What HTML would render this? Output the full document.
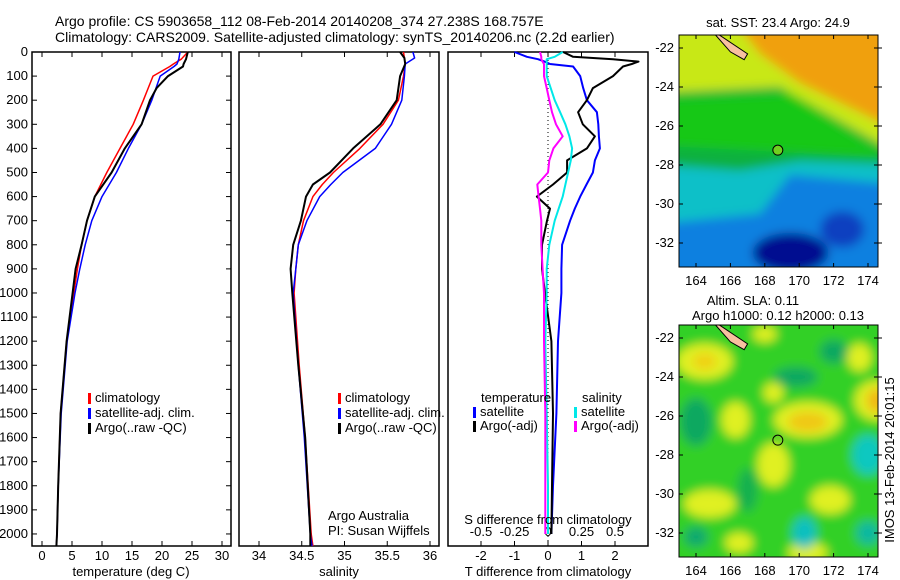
<!DOCTYPE html>
<html><head><meta charset="utf-8"><style>
body{margin:0;background:#fff}
svg{display:block;font-family:"Liberation Sans",sans-serif;font-size:13px}
</style></head><body>
<svg id="c" width="900" height="580" viewBox="0 0 900 580">
<defs>
<filter id="bl" x="-20%" y="-20%" width="140%" height="140%"><feGaussianBlur stdDeviation="5"/></filter>
<clipPath id="cm1"><rect x="679" y="35" width="199" height="232"/></clipPath>
<clipPath id="cm2"><rect x="679" y="325" width="199" height="232"/></clipPath>
</defs>
<text x="55" y="26" font-size="14">Argo profile: CS 5903658_112 08-Feb-2014 20140208_374 27.238S 168.757E</text>
<text x="55" y="42" font-size="14">Climatology: CARS2009. Satellite-adjusted climatology: synTS_20140206.nc (2.2d earlier)</text>
<g id="plots"></g>
<g id="maps"></g>
</svg>
<script>
// ---- data ----
const depthT = [0,30,50,60,100,150,200,300,400,500,600,700,800,900,1000,1200,1500,1800,2000,2050];
const tempClim = [24.3,23.2,21.9,21.3,18.5,17.7,16.9,15.2,13.0,10.8,8.8,7.5,6.6,5.9,5.3,4.1,3.1,2.7,2.5,2.4];
const tempSat  = [23.0,22.8,22.5,22.0,19.7,19.0,18.3,16.6,14.4,12.4,10.0,8.3,7.2,6.3,5.5,4.2,3.2,2.7,2.5,2.4];
const tempArgo = [24.3,24.0,23.6,23.5,21.0,19.1,18.0,16.6,13.8,11.6,8.8,7.5,6.6,5.6,5.1,4.1,3.1,2.7,2.5,2.4];
const depthS = [0,25,50,100,200,300,400,500,550,600,700,800,900,1000,1300,1600,2000,2050];
const salClim = [35.69,35.70,35.71,35.69,35.63,35.45,35.18,34.87,34.74,34.63,34.52,34.46,34.43,34.41,34.47,34.54,34.61,34.63];
const salSat  = [35.80,35.82,35.71,35.70,35.67,35.55,35.36,34.98,34.84,34.71,34.56,34.46,34.43,34.40,34.46,34.53,34.60,34.62];
const salArgo = [35.65,35.70,35.71,35.65,35.61,35.42,35.10,34.83,34.63,34.55,34.49,34.40,34.37,34.39,34.46,34.54,34.60,34.60];
const depthD = [0,20,30,40,50,60,100,150,200,250,300,350,400,450,500,550,600,650,700,800,900,1000,1200,1500,1800,2000];
const dTsat  = [-1.0,-0.63,-0.3,-0.1,0.06,0.75,0.96,1.05,1.16,1.46,1.5,1.52,1.55,1.4,1.34,1.15,0.96,0.8,0.66,0.42,0.4,0.4,0.3,0.25,0.15,0.1];
const dTargo = [0.45,0.75,1.94,2.7,2.5,2.24,1.94,1.34,1.16,0.9,1.04,1.4,1.16,0.57,0.57,0.15,-0.33,0.06,-0.03,-0.18,-0.18,-0.09,0.1,0.15,0.12,0.1];
const dSsat  = [0.11,0.05,-0.01,-0.01,-0.01,-0.01,-0.01,0.02,0.05,0.09,0.13,0.16,0.18,0.17,0.15,0.13,0.11,0.08,0.05,0.01,-0.01,-0.01,-0.02,-0.01,0.0,0.0];
const dSargo = [-0.06,-0.05,-0.05,-0.04,-0.03,-0.03,-0.03,-0.01,0.01,0.03,0.06,0.11,0.04,0.01,0.0,-0.08,-0.07,-0.06,-0.05,-0.05,-0.04,-0.03,-0.03,-0.02,-0.02,-0.02];
const depthTicks = [0,100,200,300,400,500,600,700,800,900,1000,1100,1200,1300,1400,1500,1600,1700,1800,1900,2000];
const tTicks = [0,5,10,15,20,25,30];
const sTicks = [34,34.5,35,35.5,36];
const sTickLabels = ["34","34.5","35","35.5","36"];
const dtTicks = [-2,-1,0,1,2];
const dsTicks = [-0.5,-0.25,0,0.25,0.5];
const dsTickLabels = ["-0.5","-0.25","0","0.25","0.5"];
const lonTicks = [164,166,168,170,172,174];
const latTicks = [-22,-24,-26,-28,-30,-32];

const NS="http://www.w3.org/2000/svg";
function mk(tag,attrs,parent,txt){const e=document.createElementNS(NS,tag);for(const k in attrs)e.setAttribute(k,attrs[k]);if(txt!==undefined)e.textContent=txt;parent.appendChild(e);return e;}
const P=document.getElementById('plots'), M=document.getElementById('maps');
const TOP=52, BOT=546;
const yD=d=>TOP+d*(BOT-TOP)/2050;
const xT=t=>42+6*t;
const xS=s=>259+85.5*(s-34);
const xDT=t=>548+33.5*t;
const xDS=s=>548+134*s;

function frame(x0,x1,name){
  const r=mk('rect',{x:x0,y:TOP,width:x1-x0,height:BOT-TOP,fill:'none',stroke:'#000','stroke-width':1.5},P);
  
  
}
frame(32,231,'temperature-panel');frame(239,439,'salinity-panel');frame(448,648,'difference-panel');

depthTicks.forEach(d=>{
  const y=yD(d);
  mk('line',{x1:32,x2:37,y1:y,y2:y,stroke:'#000'},P);
  mk('line',{x1:226,x2:231,y1:y,y2:y,stroke:'#000'},P);
  const t=mk('text',{x:28,y:y+4,'text-anchor':'end'},P,String(d));
  
  
});
function xticks(vals,fx,labels,y,x0,x1,name){
  vals.forEach((v,i)=>{const x=fx(v);if(x<x0||x>x1)return;
    mk('line',{x1:x,x2:x,y1:BOT,y2:BOT-5,stroke:'#000'},P);
    mk('line',{x1:x,x2:x,y1:TOP,y2:TOP+5,stroke:'#000'},P);
    const t=mk('text',{x:x,y:y,'text-anchor':'middle'},P,labels?labels[i]:String(v));
    
    
  });
}
xticks(tTicks,xT,null,560,32,231,'temperature-tick-label');
xticks(sTicks,xS,sTickLabels,560,239,439,'salinity-tick-label');
xticks(dtTicks,xDT,null,560,448,648,'t-diff-tick-label');
dsTicks.forEach((v,i)=>{const t=mk('text',{x:xDS(v),y:536,'text-anchor':'middle'},P,dsTickLabels[i]);
  
  });

function line(xs,ds,fx,col,w,name){
  const pts=xs.map((v,i)=>fx(v).toFixed(1)+','+yD(ds[i]).toFixed(1)).join(' ');
  const e=mk('polyline',{points:pts,fill:'none',stroke:col,'stroke-width':w,'stroke-linejoin':'round'},P);
  
  
}
line(tempClim,depthT,xT,'#ff0000',1.5,'temp-climatology-line');
line(tempSat,depthT,xT,'#0000ff',1.5,'temp-satellite-line');
line(tempArgo,depthT,xT,'#000',2,'temp-argo-line');
line(salClim,depthS,xS,'#ff0000',1.5,'sal-climatology-line');
line(salSat,depthS,xS,'#0000ff',1.5,'sal-satellite-line');
line(salArgo,depthS,xS,'#000',2,'sal-argo-line');
mk('line',{x1:548,x2:548,y1:TOP,y2:BOT,stroke:'#000','stroke-dasharray':'1,3'},P);
line(dTsat,depthD,xDT,'#0000ff',2,'t-diff-satellite-line');
line(dTargo,depthD,xDT,'#000',2,'t-diff-argo-line');
line(dSsat,depthD,xDS,'#00e8e8',2,'s-diff-satellite-line');
line(dSargo,depthD,xDS,'#ff00ff',2,'s-diff-argo-line');

function leg(x,y,col,txt,name){
  mk('rect',{x:x,y:y-9,width:3,height:11,fill:col},P);
  const t=mk('text',{x:x+7,y:y},P,txt);
  
  
}
leg(88,402,'#ff0000','climatology','legend-climatology');
leg(88,417,'#0000ff','satellite-adj. clim.','legend-satellite');
leg(88,432,'#000','Argo(..raw -QC)','legend-argo');
leg(338,402,'#ff0000','climatology','legend2-climatology');
leg(338,417,'#0000ff','satellite-adj. clim.','legend2-satellite');
leg(338,432,'#000','Argo(..raw -QC)','legend2-argo');
mk('text',{x:481,y:402},P,'temperature');
mk('text',{x:582,y:402},P,'salinity');
leg(473,416,'#0000ff','satellite','legend-t-satellite');
leg(473,430,'#000','Argo(-adj)','legend-t-argo');
leg(574,416,'#00e8e8','satellite','legend-s-satellite');
leg(574,430,'#ff00ff','Argo(-adj)','legend-s-argo');
mk('text',{x:328,y:520},P,'Argo Australia');
mk('text',{x:328,y:535},P,'PI: Susan Wijffels');
mk('text',{x:548,y:524,'text-anchor':'middle'},P,'S difference from climatology');
mk('text',{x:131,y:576,'text-anchor':'middle'},P,'temperature (deg C)');
mk('text',{x:339,y:576,'text-anchor':'middle'},P,'salinity');
mk('text',{x:548,y:576,'text-anchor':'middle'},P,'T difference from climatology');

// ---- maps ----
const mX=l=>696+(l-164)*17.2;
function map(y0,yy,clip,kind,name){
  const yL=la=>yy+(-22-la)*19.5;
  const g=mk('g',{'clip-path':'url(#'+clip+')'},M);
  
  
  const bg=mk('g',{filter:'url(#bl)'},g);
  if(kind==='sst'){
    mk('rect',{x:660,y:y0-20,width:240,height:280,fill:'#10b040'},bg);
    mk('polygon',{points:`660,${y0-20} 900,${y0-20} 900,${yL(-27.5)} 780,${yL(-24)} 660,${yL(-24.3)}`,fill:'#c8e818'},bg);
    mk('polygon',{points:`730,${y0-20} 900,${y0-20} 900,${yL(-26.3)} 800,${yL(-23.8)} 760,${yL(-22.3)}`,fill:'#f0a010'},bg);
    mk('polygon',{points:`660,${yL(-24.6)} 790,${yL(-24.3)} 880,${yL(-27.3)} 880,${yL(-27.6)} 660,${yL(-27)}`,fill:'#18c818'},bg);
    mk('polygon',{points:`660,${yL(-28)} 740,${yL(-28.3)} 800,${yL(-27.8)} 900,${yL(-28)} 900,${y0+260} 660,${y0+260}`,fill:'#10c0c8'},bg);
    mk('polygon',{points:`660,${yL(-31)} 760,${yL(-30.5)} 790,${yL(-28.5)} 900,${yL(-29)} 900,${y0+260} 660,${y0+260}`,fill:'#1080e0'},bg);
    mk('ellipse',{cx:mX(169.5),cy:yL(-32.5),rx:38,ry:20,fill:'#001090'},bg);
    mk('ellipse',{cx:mX(172.5),cy:yL(-31.3),rx:22,ry:18,fill:'#1040c0'},bg);
  } else {
    mk('rect',{x:660,y:y0-20,width:240,height:280,fill:'#30d028'},bg);
    [[164.5,-23.2,28,18],[170.5,-26.2,34,18],[166.3,-26.2,14,18],[174.5,-25.2,22,20],[168.5,-28.5,16,22],[164.8,-30.5,26,14],[171.8,-30.3,20,14],[173.5,-23,12,14],[168,-21.8,12,8],[170.5,-33,20,10],[168.5,-24.8,10,10],[166.5,-32.5,14,10]].forEach(b=>
      mk('ellipse',{cx:mX(b[0]),cy:yL(b[1]),rx:b[2],ry:b[3],fill:'#e0f020'},bg));
    [[170.5,-26.3,20,10,'#f0c818'],[164.5,-23.2,12,8,'#f0d018'],[174.5,-25.2,10,12,'#f0b818']].forEach(b=>mk('ellipse',{cx:mX(b[0]),cy:yL(b[1]),rx:b[2],ry:b[3],fill:b[4]},bg));
    [[164,-26.3,16,24,'#10a860'],[169.8,-24,22,10,'#10a860'],[174,-28,16,20,'#10c8c0'],[170.3,-32,12,16,'#10c0c0'],[174,-32,12,12,'#10b8a0'],[172,-22.7,14,12,'#10a860'],[167,-29.8,10,22,'#18b050'],[164,-32.2,12,10,'#10a870']].forEach(b=>
      mk('ellipse',{cx:mX(b[0]),cy:yL(b[1]),rx:b[2],ry:b[3],fill:b[4]},bg));
  }
  mk('polygon',{points:`${mX(164.9)},${yL(-21.1)} ${mX(165.3)},${yL(-21.3)} ${mX(167)},${yL(-22.3)} ${mX(166.8)},${yL(-22.6)} ${mX(166)},${yL(-22.2)}`,fill:'#f8c0a0',stroke:'#000'},g);
  mk('circle',{cx:mX(168.757),cy:yL(-27.238),r:5,fill:kind==='sst'?'#70d020':'none',stroke:'#000'},g);
  mk('rect',{x:679,y:y0,width:199,height:232,fill:'none',stroke:'#000'},M);
  lonTicks.forEach(l=>{const x=mX(l);mk('line',{x1:x,x2:x,y1:y0,y2:y0+4,stroke:'#000'},M);mk('line',{x1:x,x2:x,y1:y0+232,y2:y0+228,stroke:'#000'},M);
    const t=mk('text',{x:x,y:y0+250,'text-anchor':'middle'},M,String(l));
    
    });
  latTicks.forEach(la=>{const y=yL(la);mk('line',{x1:679,x2:683,y1:y,y2:y,stroke:'#000'},M);mk('line',{x1:874,x2:878,y1:y,y2:y,stroke:'#000'},M);
    mk('line',{x1:878,x2:882,y1:y,y2:y,stroke:'#000'},M);
    const t=mk('text',{x:674,y:y+4,'text-anchor':'end'},M,String(la));
    
    });
}
map(35,48,'cm1','sst','sst-map');
map(325,338,'cm2','sla','sla-map');
mk('text',{x:778,y:27,'text-anchor':'middle'},M,'sat. SST: 23.4  Argo: 24.9');
mk('text',{x:753,y:305,'text-anchor':'middle'},M,'Altim. SLA: 0.11');
mk('text',{x:778,y:320,'text-anchor':'middle'},M,'Argo h1000: 0.12 h2000: 0.13');
mk('text',{x:0,y:0,'text-anchor':'middle',transform:'translate(894,460) rotate(-90)'},M,'IMOS 13-Feb-2014 20:01:15');
</script>
</body></html>
